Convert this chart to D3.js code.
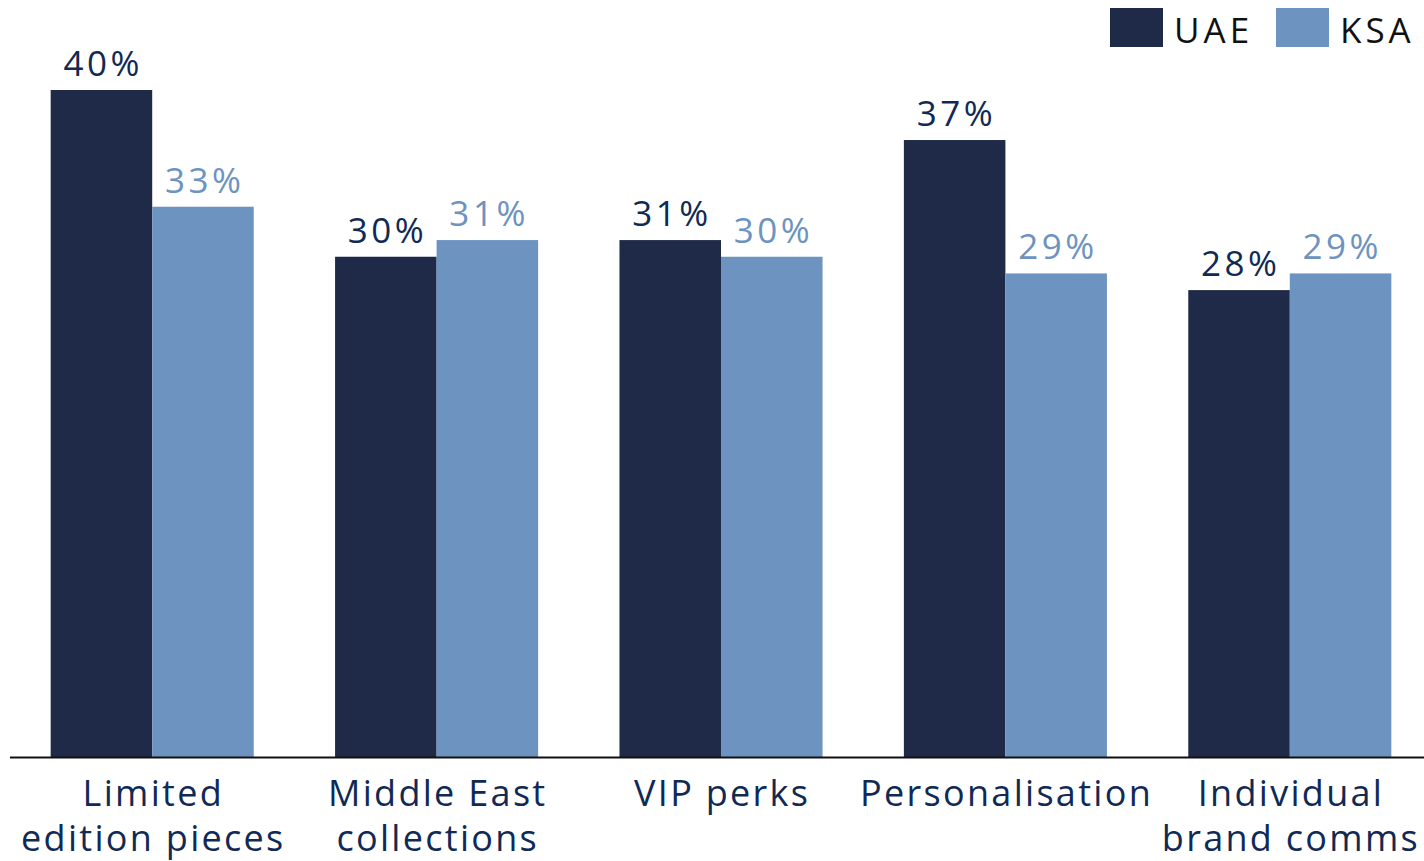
<!DOCTYPE html>
<html>
<head>
<meta charset="utf-8">
<script src="https://cdn.jsdelivr.net/npm/d3@7"></script>
<style>
  html, body { margin: 0; padding: 0; background: #fff; }
  svg text { font-family: "Open Sans", "DejaVu Sans", sans-serif; }
</style>
</head>
<body>
<svg id="chart" width="1424" height="861"></svg>
<script>
"use strict";

const categories = [
  ["Limited", "edition pieces"],
  ["Middle East", "collections"],
  ["VIP perks"],
  ["Personalisation"],
  ["Individual", "brand comms"]
];
const series = ["UAE", "KSA"];
const uaeValues = [40, 30, 31, 37, 28];
const ksaValues = [33, 31, 30, 29, 29];

const colors = { UAE: "#1f2a48", KSA: "#6d93c0" };
const labelColors = { UAE: "#102a55", KSA: "#6d93c0" };

const svg = d3.select("#chart");
const baseY = 757;

const x0 = d3.scaleBand()
  .domain(d3.range(categories.length))
  .range([10, 1432])
  .paddingInner(0.286)
  .paddingOuter(0.143);

const x1 = d3.scaleBand()
  .domain(series)
  .range([0, x0.bandwidth()]);

const y = d3.scaleLinear().domain([0, 40]).range([baseY, 90]);

const rows = categories.map((c, i) => ({
  i: i,
  values: [
    { key: "UAE", v: uaeValues[i] },
    { key: "KSA", v: ksaValues[i] }
  ]
}));

const groups = svg.selectAll("g.group")
  .data(rows)
  .enter()
  .append("g")
  .attr("class", "group")
  .attr("transform", (d) => `translate(${x0(d.i)},0)`);

groups.selectAll("rect")
  .data((d) => d.values)
  .enter()
  .append("rect")
  .attr("x", (d) => x1(d.key))
  .attr("y", (d) => y(d.v))
  .attr("width", x1.bandwidth())
  .attr("height", (d) => baseY - y(d.v))
  .attr("fill", (d) => colors[d.key]);

// value labels (letter-spacing widens Open Sans toward the original face)
const valLs = 3.5;
groups.selectAll("text.val")
  .data((d) => d.values)
  .enter()
  .append("text")
  .attr("class", "val")
  .attr("x", (d) => x1(d.key) + x1.bandwidth() / 2 + valLs / 2)
  .attr("y", (d) => y(d.v) - 14)
  .attr("text-anchor", "middle")
  .attr("font-size", 35)
  .attr("letter-spacing", valLs)
  .attr("fill", (d) => labelColors[d.key])
  .text((d) => d.v + "%");

// baseline
svg.append("line")
  .attr("x1", 10)
  .attr("x2", 1424)
  .attr("y1", baseY + 0.5)
  .attr("y2", baseY + 0.5)
  .attr("stroke", "#111")
  .attr("stroke-width", 2);

// category labels
const catLs = 2.3;
const catText = svg.selectAll("text.cat")
  .data(categories)
  .enter()
  .append("text")
  .attr("class", "cat")
  .attr("text-anchor", "middle")
  .attr("font-size", 36)
  .attr("letter-spacing", catLs)
  .attr("fill", "#102a55");

catText.selectAll("tspan")
  .data((d, i) => d.map((line) => ({ line: line, i: i })))
  .enter()
  .append("tspan")
  .attr("x", (d) => x0(d.i) + x0.bandwidth() / 2 + catLs / 2)
  .attr("y", (d, j) => 806 + j * 45)
  .text((d) => d.line);

// legend
const legend = svg.append("g");
const legendX = [1110, 1276];
series.forEach((s, i) => {
  legend.append("rect")
    .attr("x", legendX[i])
    .attr("y", 8)
    .attr("width", 53)
    .attr("height", 39)
    .attr("fill", colors[s]);
  legend.append("text")
    .attr("x", legendX[i] + 64)
    .attr("y", 43)
    .attr("font-size", 35)
    .attr("letter-spacing", 4)
    .attr("fill", "#111")
    .text(s);
});
</script>
</body>
</html>
